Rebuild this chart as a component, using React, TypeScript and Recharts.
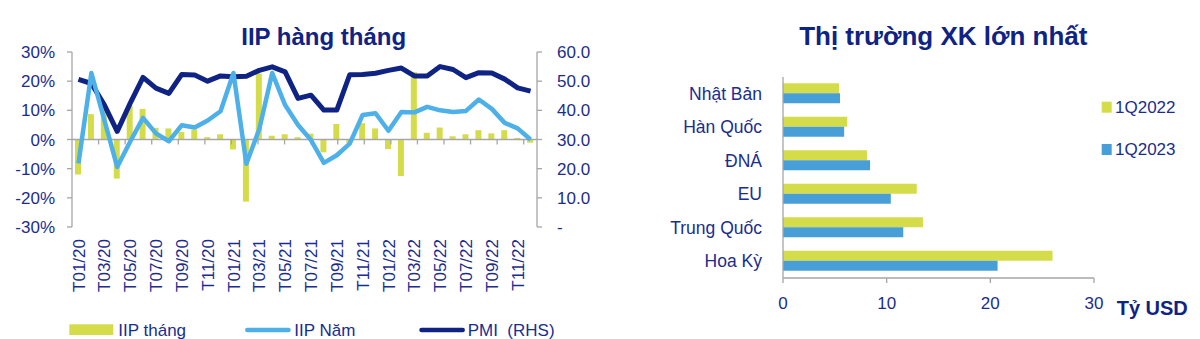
import { ComposedChart, BarChart, Bar, Line, XAxis, YAxis, ReferenceLine } from 'recharts'

// IIP / PMI, monthly 2020-2022
const months = [
  'T01/20', 'T02/20', 'T03/20', 'T04/20', 'T05/20', 'T06/20', 'T07/20', 'T08/20', 'T09/20', 'T10/20', 'T11/20', 'T12/20',
  'T01/21', 'T02/21', 'T03/21', 'T04/21', 'T05/21', 'T06/21', 'T07/21', 'T08/21', 'T09/21', 'T10/21', 'T11/21', 'T12/21',
  'T01/22', 'T02/22', 'T03/22', 'T04/22', 'T05/22', 'T06/22', 'T07/22', 'T08/22', 'T09/22', 'T10/22', 'T11/22', 'T12/22',
]
const iipThang = [
  -12.0, 8.7, 10.5, -13.4, 11.5, 10.5, 4.0, 3.8, 2.6, 3.4, 0.8, 1.8,
  -3.4, -21.3, 22.6, 1.3, 1.8, 0.8, 2.0, -4.4, 5.3, -1.2, 5.6, 3.8,
  -3.3, -12.5, 23.1, 2.3, 4.1, 1.1, 1.8, 3.2, 2.1, 3.2, 0.5, -1.1,
]
const iipNam = [
  -8.2, 22.8, 6.7, -9.4, -0.8, 7.4, 2.1, -0.6, 4.9, 4.1, 6.5, 9.7,
  22.8, -8.3, 3.6, 22.8, 11.8, 5.0, -0.2, -8.0, -5.4, -1.4, 8.4, 9.0,
  3.0, 9.4, 9.3, 11.2, 10.0, 9.4, 9.8, 13.7, 10.5, 5.7, 3.8, 0.0,
]
const pmi = [
  50.6, 49.2, 41.9, 32.8, 42.4, 51.3, 47.6, 45.8, 52.3, 52.1, 50.0, 51.8,
  51.5, 51.7, 53.7, 54.9, 53.2, 44.1, 45.2, 40.1, 40.1, 52.2, 52.3, 52.7,
  53.7, 54.5, 51.8, 51.8, 55.0, 54.0, 51.2, 52.9, 52.8, 50.7, 47.7, 46.6,
]
const pctTicks = [-30, -20, -10, 0, 10, 20, 30]
const pmiTicks = [0, 10, 20, 30, 40, 50, 60]

// largest export markets, bn USD
const markets = ['Nhật Bản', 'Hàn Quốc', 'ĐNÁ', 'EU', 'Trung Quốc', 'Hoa Kỳ']
const xk2022 = [5.4, 6.2, 8.1, 12.9, 13.5, 26.0]
const xk2023 = [5.5, 5.9, 8.4, 10.4, 11.6, 20.7]
const usdTicks = [0, 10, 20, 30]

const NAVY = '#0f2384'
const TEXT = '#1a2d8f'
const LIME = '#d4dc4a'
const SKY = '#4db0e8'
const BLUE = '#489ed6'
const AXIS = '#a6a6a6'
const FONT = '"Liberation Sans", Arial, sans-serif'

const iipData = months.map((m, i) => ({ month: m, thang: iipThang[i], nam: iipNam[i], pmi: pmi[i] }))
const zeroTicks = months.map((_, i) => i).filter((i) => i > 0 && i % 2 === 0)

const xkData = markets.map((m, i) => ({ market: m, q22: xk2022[i], q23: xk2023[i] }))
const bandTicks = markets.map((_, i) => i).concat(markets.length)

const tickText = { fill: TEXT, fontSize: 17, fontFamily: FONT }

function MonthTick({ x, y, payload }: any) {
  return (
    <text
      x={x}
      y={y}
      transform={`rotate(-90 ${x} ${y})`}
      textAnchor="end"
      dy="0.36em"
      fill={TEXT}
      fontSize={17}
      fontFamily={FONT}
    >
      {payload.value}
    </text>
  )
}

function IipChart() {
  return (
    <ComposedChart width={600} height={339} data={iipData} margin={{ top: 52, right: 3, bottom: 42, left: 12 }}>
      <XAxis
        dataKey="month"
        interval={1}
        axisLine={false}
        tickLine={false}
        tickSize={0}
        tickMargin={12}
        height={70}
        tick={<MonthTick />}
      />
      <XAxis xAxisId="num" type="number" domain={[0, months.length]} hide />
      <YAxis
        yAxisId="pct"
        domain={[-30, 30]}
        ticks={pctTicks}
        tickFormatter={(v) => `${v}%`}
        width={60}
        axisLine={{ stroke: AXIS, strokeWidth: 1.3 }}
        tickLine={{ stroke: AXIS, strokeWidth: 1.3 }}
        tickSize={5}
        tickMargin={12}
        tick={tickText}
      />
      <YAxis
        yAxisId="pmi"
        orientation="right"
        domain={[0, 60]}
        ticks={pmiTicks}
        tickFormatter={(v) => (v === 0 ? '-' : v.toFixed(1))}
        width={60}
        axisLine={{ stroke: AXIS, strokeWidth: 1.3 }}
        tickLine={{ stroke: AXIS, strokeWidth: 1.3 }}
        tickSize={5}
        tickMargin={15}
        tick={tickText}
      />
      <ReferenceLine yAxisId="pct" y={0} stroke={AXIS} strokeWidth={1.3} />
      {zeroTicks.map((b) => (
        <ReferenceLine
          key={b}
          xAxisId="num"
          yAxisId="pct"
          segment={[{ x: b, y: 0 }, { x: b, y: -1.7 }]}
          stroke={AXIS}
          strokeWidth={1.3}
        />
      ))}
      <Bar yAxisId="pct" dataKey="thang" fill={LIME} barSize={6} isAnimationActive={false} />
      <Line
        yAxisId="pmi"
        dataKey="pmi"
        stroke={NAVY}
        strokeWidth={5}
        strokeLinejoin="round"
        dot={false}
        isAnimationActive={false}
      />
      <Line
        yAxisId="pct"
        dataKey="nam"
        stroke={SKY}
        strokeWidth={4.5}
        strokeLinejoin="round"
        dot={false}
        isAnimationActive={false}
      />
    </ComposedChart>
  )
}

function MarketChart() {
  return (
    <BarChart
      layout="vertical"
      width={600}
      height={339}
      data={xkData}
      margin={{ top: 77, right: 106, bottom: 31, left: 3 }}
      barCategoryGap="19%"
      barGap={0}
    >
      <XAxis
        type="number"
        domain={[0, 30]}
        ticks={usdTicks}
        height={30}
        axisLine={{ stroke: AXIS, strokeWidth: 1.3 }}
        tickLine={{ stroke: AXIS, strokeWidth: 1.3 }}
        tickSize={5}
        tickMargin={14}
        tick={tickText}
      />
      <YAxis
        type="category"
        dataKey="market"
        width={180}
        axisLine={{ stroke: AXIS, strokeWidth: 1.3 }}
        tickLine={false}
        tickSize={0}
        tickMargin={21}
        tick={{ ...tickText, fontSize: 17.5 }}
      />
      <YAxis
        yAxisId="band"
        type="number"
        domain={[0, markets.length]}
        ticks={bandTicks}
        width={0}
        tick={false}
        axisLine={false}
        tickLine={{ stroke: AXIS, strokeWidth: 1.3 }}
        tickSize={6}
      />
      <Bar dataKey="q22" fill={LIME} isAnimationActive={false} />
      <Bar dataKey="q23" fill={BLUE} isAnimationActive={false} />
    </BarChart>
  )
}

export default function App() {
  return (
    <div style={{ position: 'absolute', left: 0, top: 0, width: 1200, height: 339, background: '#fff' }}>
      <div style={{ position: 'absolute', left: 0, top: 0 }}>
        <IipChart />
      </div>
      <div style={{ position: 'absolute', left: 600, top: 0 }}>
        <MarketChart />
      </div>
      <svg
        width={1200}
        height={339}
        style={{ position: 'absolute', left: 0, top: 0, pointerEvents: 'none' }}
        fontFamily={FONT}
      >
        <text x={323.7} y={45} textAnchor="middle" fontSize={24} fontWeight="bold" fill={NAVY}>
          IIP hàng tháng
        </text>
        <text x={943.3} y={45} textAnchor="middle" fontSize={26} fontWeight="bold" fill={NAVY}>
          Thị trường XK lớn nhất
        </text>

        <rect x={69.3} y={324.3} width={44} height={10.7} fill={LIME} />
        <text x={118.3} y={336} fontSize={17} fill={TEXT}>IIP tháng</text>
        <line x1={247.3} y1={330} x2={288.5} y2={330} stroke={SKY} strokeWidth={4.5} strokeLinecap="round" />
        <text x={294.3} y={336} fontSize={17} fill={TEXT}>IIP Năm</text>
        <line x1={421.5} y1={330} x2={462.7} y2={330} stroke={NAVY} strokeWidth={4.5} strokeLinecap="round" />
        <text x={467.7} y={336} fontSize={17} fill={TEXT} style={{ whiteSpace: 'pre' }}>PMI  (RHS)</text>

        <rect x={1101.7} y={101.7} width={10} height={11} fill={LIME} />
        <text x={1115} y={113.4} fontSize={17} fill={TEXT}>1Q2022</text>
        <rect x={1101.7} y={144} width={10} height={11} fill={BLUE} />
        <text x={1115} y={155.1} fontSize={17} fill={TEXT}>1Q2023</text>
        <text x={1116.7} y={315} fontSize={20} fontWeight="bold" fill={NAVY}>Tỷ USD</text>
      </svg>
    </div>
  )
}
